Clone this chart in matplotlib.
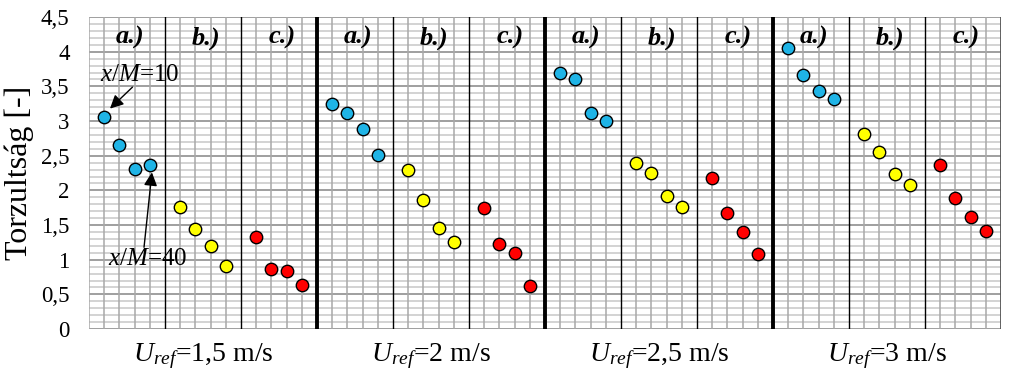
import numpy as np
import matplotlib.pyplot as plt

plt.rcParams['font.family'] = 'Liberation Serif'
plt.rcParams['mathtext.fontset'] = 'custom'
plt.rcParams['mathtext.rm'] = 'Liberation Serif'
plt.rcParams['mathtext.it'] = 'Liberation Serif:italic'

# data, one row per U_ref
speeds = ['1,5', '2', '2,5', '3']
panels = ['a.)', 'b.)', 'c.)']
vals_a = [[3.06, 2.65, 2.31, 2.37],
          [3.25, 3.12, 2.89, 2.51],
          [3.70, 3.60, 3.12, 3.00],
          [4.06, 3.67, 3.44, 3.32]]
vals_b = [[1.76, 1.44, 1.20, 0.91],
          [2.29, 1.86, 1.46, 1.25],
          [2.40, 2.25, 1.92, 1.76],
          [2.81, 2.56, 2.24, 2.08]]
vals_c = [[1.33, 0.87, 0.84, 0.63],
          [1.75, 1.22, 1.10, 0.62],
          [2.18, 1.68, 1.40, 1.08],
          [2.37, 1.89, 1.61, 1.41]]
colors = ['#1fb4e6', '#ffff00', '#ff0000']

fig = plt.figure(figsize=(10.23, 3.8), dpi=100)
ax = fig.add_axes([0.087, 0.134, 0.8915, 0.821])

# grid
for y in np.arange(0, 4.51, 0.1):
    major = abs(y / 0.5 - round(y / 0.5)) < 1e-6
    ax.axhline(y, color='#858585' if major else '#c8c8c8', lw=1.1, zorder=1)
for x in range(61):
    if x % 15 == 0 and 0 < x < 60:
        ax.axvline(x, color='k', lw=2.8, zorder=2)
    elif x % 5 == 0 and 0 < x < 60:
        ax.axvline(x, color='k', lw=1.0, zorder=2)
    elif x == 60:
        ax.axvline(x, color='#555555', lw=1.3, zorder=2)
    else:
        ax.axvline(x, color='#a8a8a8', lw=1.1, zorder=1)

for g, sp in enumerate(speeds):
    for p, vals in enumerate([vals_a, vals_b, vals_c]):
        xs = g * 15 + p * 5 + np.arange(1, 5)
        ax.scatter(xs, vals[g], s=80, c=colors[p], edgecolors='k',
                   linewidths=1.0, zorder=5)
        ax.text(g * 15 + p * 5 + 2.7, 4.2, panels[p], ha='center', va='center',
                fontsize=19, fontweight='bold', fontstyle='italic', zorder=6)

ax.set_xlim(0, 60)
ax.set_ylim(0, 4.5)
ax.set_yticks(np.arange(0, 4.51, 0.5))
ax.set_yticklabels([f'{v:g}'.replace('.', ',') for v in np.arange(0, 4.51, 0.5)],
                   fontsize=16.5)
ax.set_xticks([g * 15 + 7.5 for g in range(4)])
ax.set_xticklabels([r'$U_{ref}$=' + s + ' m/s' for s in speeds], fontsize=20)
ax.tick_params(axis='y', length=0, pad=14)
ax.tick_params(axis='x', length=0, pad=9)
for s in ax.spines.values():
    s.set_visible(False)
ax.set_ylabel('Torzultság [-]', fontsize=23, labelpad=5)

# annotations
ax.text(0.7, 3.66, '$x/M$=10', fontsize=18, va='center', ha='left', zorder=7)
ax.annotate('', xy=(1.38, 3.18), xytext=(2.86, 3.49),
            arrowprops=dict(arrowstyle='-|>', color='k', lw=1,
                            mutation_scale=20, shrinkA=0, shrinkB=0),
            zorder=7)
ax.text(1.25, 1.01, '$x/M$=40', fontsize=18, va='center', ha='left', zorder=7)
ax.annotate('', xy=(4.14, 2.26), xytext=(3.62, 1.18),
            arrowprops=dict(arrowstyle='-|>', color='k', lw=1,
                            mutation_scale=20, shrinkA=0, shrinkB=0),
            zorder=7)

fig.savefig('out.png', dpi=100)
